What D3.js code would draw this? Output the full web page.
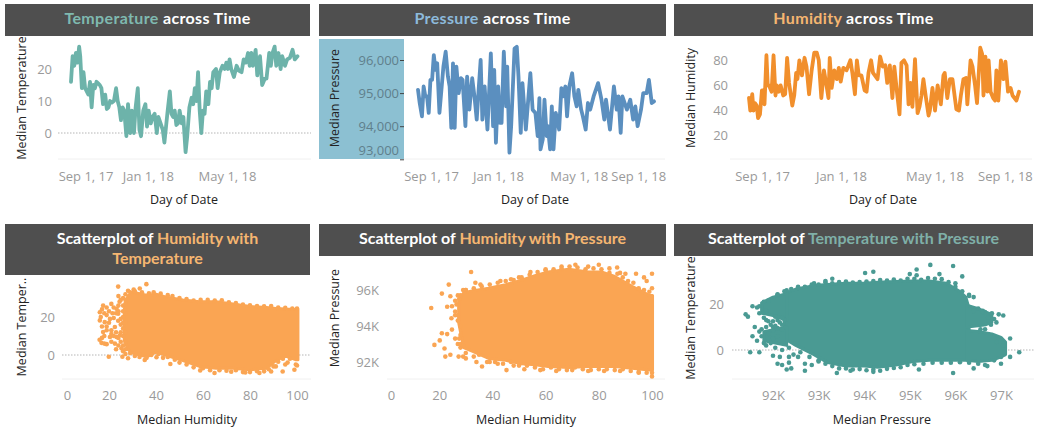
<!DOCTYPE html>
<html><head><meta charset="utf-8">
<script src="https://cdn.jsdelivr.net/npm/d3@7/dist/d3.min.js"></script>
<style>
html,body{margin:0;padding:0;background:#fff;overflow:hidden}
svg{display:block}
.ttl{font-family:Lato,sans-serif;font-weight:700;font-size:16px}
.tick text{font-family:"Open Sans",sans-serif;font-size:13px;fill:#9a9a9a}
.axt{font-family:"Open Sans",sans-serif;font-size:12.5px;fill:#222;font-weight:500}
</style></head><body>
<svg id="c" width="1040" height="439"></svg>
<script>
// ---------- data ----------
const seriesStart = new Date(2017, 7, 7);
const dateTicks = [new Date(2017,8,1), new Date(2018,0,1), new Date(2018,4,1), new Date(2018,8,1)];

const tempDays = [0,3,6,9,12,15,17,20,23,26,29,32,35,38,41,44,47,50,53,56,59,63,66,69,72,75,79,83,86,89,92,95,98,102,105,109,112,116,119,123,126,129,133,137,140,143,147,150,154,158,161,165,169,172,175,178,182,185,188,191,194,197,200,204,207,208,211,214,218,222,225,228,231,234,237,240,243,246,249,253,256,259,262,267,270,274,279,283,286,289,292,295,300,305,309,314,318,322,326,329,332,335,340,343,348,352,357,360,365,368,371,375,378,382,386,389,394,398,403,408,412,417];
const tempValues = [16,24,21,25,22,27,24,14,19,14,13,12,16,8,15,14,16,15.5,15,14,9,12,7.5,8,10,9.5,10,14,10,8,4,8,7,-1,9,0,7,0,8,14,1,-1,7,9,2,7,3,5,6,0,5,3,1,-3,2,7,13,6,5,7,2.5,3,7,3,5,2,-6,-1,8,11,9,14,10,19,7,0,7,6,13,9,16,14,19,20,14,19,21,20,22,20,23,20,17.5,21,19.5,19,23,22,25,21,25,21,26,18,24,15,17,17,25,21,25,27,21,25,20,24,21,23,23.5,26,23,24];

const presDays = [0,3,7,10,13,16,19,22,25,28,31,34,38,41,45,49,53,56,59,62,65,68,72,76,79,84,87,91,96,100,104,107,111,114,118,123,129,133,135,138,142,145,148,152,156,158,162,165,171,175,178,182,185,191,199,203,208,212,215,217,221,224,228,230,234,237,240,244,250,254,257,261,264,268,273,277,281,284,289,292,297,301,305,311,319,325,330,333,340,347,352,355,359,362,370,376,381,385,389,395,399,405,409,414,418];
const presValues = [95100,94700,94300,95200,94900,94900,94400,95400,95400,96150,95700,95900,94400,95000,95800,96250,95500,95200,93950,95900,93950,95800,95000,95450,95400,94000,95500,94500,95450,94900,94200,95000,96000,94200,95200,93900,96200,94000,95700,93500,95200,94100,94100,96250,94600,95800,93200,94000,96350,96400,95500,93800,95300,93900,95600,94500,94400,93700,94850,93300,93600,94800,93700,94000,93300,94600,93300,94400,93900,95150,94900,95200,94300,95200,95600,94900,94600,95100,94500,94300,93900,94700,94500,94900,95300,94800,94200,94800,93900,95200,94500,94900,93800,94900,94500,94800,94200,94600,94000,94500,95000,95000,95400,94700,94750];

const humDays = [0,2,5,7,9,12,14,17,20,22,24,27,29,31,35,38,41,43,46,49,53,56,59,62,64,67,70,73,75,78,82,86,89,93,97,101,105,108,112,116,120,123,125,128,132,136,139,142,146,151,157,160,164,167,170,174,179,182,185,189,192,199,203,207,211,214,218,222,225,229,233,236,240,244,247,250,253,257,261,264,267,270,274,278,280,284,288,292,297,301,303,307,311,315,321,325,328,332,336,338,343,346,350,353,358,361,363,366,369,371,374,378,381,383,386,390,394,397,401,405,408,414,418];
const humValues = [50,40,53,40,46,44,34,37,56,56,45,84,60,60,55,84,52,60,55,60,52,53,82,62,55,44,52,70,65,80,68,82,75,53,72,86,86,80,50,72,60,50,82,58,72,65,74,63,74,72,80,70,53,80,68,68,56,55,70,80,70,65,83,75,76,62,76,50,75,55,37,78,80,76,45,62,43,81,38,43,52,65,50,36,40,58,40,60,45,68,70,50,65,65,41,40,52,65,66,45,80,75,60,46,90,85,52,83,55,80,55,50,48,72,48,80,65,79,55,58,52,48,55];

// solid, fully overplotted parts of each cloud: [x, low, high]
const humTempBody = [[[26.5,8,24],[28,3,31],[30,1,33],[36,-1,31.5],[40,1.5,32],[44,0,30.5],[51.5,-3,29],[58.5,-6,28],[65.6,-7,28],[72.7,-7,26.8],[80,-7.7,25.5],[87,-7,25],[91,-3,24.5],[95,-0.5,24.2],[99.6,-2.5,24],[100.4,-2.5,24]]];
const humTempDots = [[23.9,36],[35.9,37.3],[28.1,33.8],[30.5,34.5],[33.1,35],[16.1,22.5],[16.5,20],[17.5,26],[19,25],[21,26.9],[23.2,24.3],[24.5,28],[16.1,18.2],[18.2,17.3],[17,15],[20.4,19],[21.5,22],[22.5,14.7],[17.5,12.1],[19,13],[20.4,9.5],[16.8,6.4],[18,6],[19,5.7],[22.5,6],[21,11],[19.9,-0.9],[25.7,-0.9],[28.1,-1.7],[35.2,-2.6],[33,-1],[40.2,-1.2],[46.1,-4.7],[58.8,-8.1],[64.9,-9.5],[72,-8.8],[78,-9.2],[84,-9.5],[89,-8.7],[91,-6],[93.9,-8.7],[95,-5],[98.9,-7.8],[99.5,-5],[23.9,21.7],[23.9,18],[24.6,10.4],[23.2,9.5],[25.3,3.5],
[27,32],[29,33],[31,33.5],[34,33],[37,32.5],[39,33],[42,32.3],[45,31.5],[47,31],[50,30],[53,29.5],[56,28.6],[59,29],[62,29],[65,28.7],[68,28.8],[71,27.8],[74,27.3],[77,26.5],[80,26.2],[83,25.8],[86,25.6],[89,25.8],[92,25],[95,24.8],[98,24.5],[100,24.5],
[48,-2.5],[50,-4],[53,-5],[56,-6.5],[60,-7],[63,-8],[67,-8],[70,-8.3],[74,-8],[77,-9],[80,-9],[83,-8.5],[86,-8.6],[88,-7.5],[90,-6],[92,-3.5],[94,-2],[96,-4],[97,-2],[100,-5.5],[27,0.5],[29,1],[31,-0.5],[33,0.5],[36,-1.5],[38,0],[41,0.5],[43,-1.5],[45,-1],
[17,24],[18,22],[19,21],[20,23],[22,25],[23,22],[24,26],[25,29],[26,30],[24,31],[26,26],[22,19.5],[20,17],[19,15],[21,13],[23,12],[24,9],[25,7],[26,5],[22,10],[21,7],[24,5],[26,2],[27,3],[23,3],[17,9],[18,10],[16,8],[27,27],[26,14],[26,10],[25,12],[25,16],[26,20],[24,23],[27,22],[27,17],[27,12],[27,7],[27,29],[26,23],[25,19],[26,17]];

const humPresBody = [[[27.3,94.2,95.4],[29.2,92.8,95.85],[32.4,92.6,95.95],[38.6,92.2,96.1],[45,92.1,96.3],[51,91.9,96.55],[56,91.85,96.8],[61,91.75,97],[68.7,91.7,97.15],[76,91.75,97],[81,91.75,97],[86,91.75,96.75],[92.5,91.65,96.2],[99,91.55,95.7],[100.2,91.55,95.7]]];
const humPresDots = [[17,95],[18.2,92.95],[20.2,93.2],[21,95.8],[23.6,96.3],[24.2,95.65],[23,95.07],[24.8,95.1],[24.6,94.43],[21,93.6],[23,93.55],[24.8,93.8],[22,92.75],[24.2,92.4],[22.3,92.3],[27.3,92.3],[32,97],[33.6,96.4],[35.5,96.3],[36.1,91.75],[39,92],[45.3,91.55],[43,96.5],[54.3,97],[71.2,97.4],[80,97.4],[86.9,97.25],[94,96.9],[100,96.9],[100,91.2],[26,95.4],[27,95.7],[26,94.8],[27,94.3],[28,94],[26,93.3],[27,93],[28,92.8],[29,92.3],[30,96],[30,92.2],[34,92],[42,91.9],[48,91.8],[52,91.6],[58,91.55],[64,91.5],[70,91.55],[76,91.5],[82,91.5],[88,91.5],[95,91.4],[97,96.7],[98,96.5],[90,96.9],[88,96.95],[84,97.2],[76,97.3],[66,97.3],[60,97.15],[50,96.7],[47,96.6],
[30,96],[33,96.1],[36,96.2],[39,96.3],[42,96.4],[45,96.5],[48,96.55],[51,96.7],[54,96.85],[57,97],[60,97.1],[63,97.15],[66,97.2],[69,97.3],[72,97.25],[75,97.15],[78,97.2],[81,97.15],[84,96.95],[87,96.9],[89,96.7],[91,96.5],[93,96.4],[95,96.1],[97,96],[99,95.9],[100,96.1],
[30,92.5],[33,92.3],[35,92.4],[38,92],[41,92],[44,91.9],[47,92],[50,91.8],[53,91.8],[56,91.7],[59,91.6],[62,91.7],[65,91.6],[68,91.55],[71,91.7],[74,91.6],[77,91.55],[80,91.6],[83,91.6],[86,91.55],[89,91.6],[92,91.5],[95,91.45],[98,91.4],[100,91.4],
[26.5,95.2],[27.5,95.5],[26,94.6],[27,94.6],[28,93.5],[27.5,93.3],[28,93],[29,92.9],[28,95.7],[29,96]];

const presTempBody = [
 [[92.25,5,24.5],[92.5,2,26.5],[92.9,-2,28],[93.2,-5.5,28.5],[93.6,-7,29],[94,-7,29],[94.3,-7.5,29.5],[94.7,-6.5,29.8],[95.07,-5,30],[95.43,-4.5,30],[95.8,-4.5,29],[96.09,-4.5,25.5],[96.23,-4.5,23],[96.3,-4.5,18]],
 [[96.25,10,19.5],[96.5,10.5,18],[96.67,11,16.5],[96.8,12,15.5]],
 [[96.25,-4.5,8.5],[96.5,-5,8],[96.8,-4.5,7],[97,-3,5.5],[97.1,-2,3.5]],
 [[91.75,16,20.5],[92,15,23],[92.3,13,24.5]],
 [[91.8,4,8],[92.3,2,10]]
];
const presTempDots = [[91.4,15.5],[91.45,14.5],[91.55,19],[91.65,18.5],[91.7,16],[91.8,14],[91.6,10],[91.7,8],[91.55,6],[91.75,6],[91.65,4],[91.9,7],[92,10],[92,5],[91.85,2],[91.7,-1],[91.5,-1],[92,-2.5],[92.1,-6],[92.2,-6.5],[92.35,-5.5],[92.3,-8.5],[92.4,-8],[92.7,-6],[92.7,-9],[92.85,-6.5],[93,-5],[93.4,-10],[92.1,24],[92.3,26],[92.55,27.5],[92.9,29],[93.15,30],[93.3,31],[94.02,33.5],[94.2,34],[95,33],[95.15,32.5],[95.15,35],[95.45,37],[95.65,33],[95.95,36.5],[96.15,32],[96,29],[96.3,24],[96.6,17],[96.65,16.5],[96.8,16],[96.9,12],[97.05,15],[96.95,15.5],[96.55,9],[96.65,9],[97.2,5],[97.07,-1],[97.2,-3],[97.4,-1],[97,-6],[96.7,-7],[96.4,-8],[95.95,-10],[95.2,-8.5],[94.2,-9.5],[93.7,-9],
[92.1,24.2],[92.25,25.5],[92.4,26.5],[92.55,27],[92.7,27.5],[92.85,28.5],[93,28.5],[93.15,29.5],[93.3,29],[93.45,29.5],[93.6,29.8],[93.75,29.3],[93.9,29.5],[94.05,29.8],[94.2,30],[94.35,30.4],[94.5,30.2],[94.65,30.6],[94.8,30.2],[94.95,31],[95.1,31],[95.25,30.5],[95.4,31.3],[95.55,31],[95.7,30.8],[95.85,29.5],[96,27.5],[96.15,25.5],[96.3,23.5],[96.4,23],[96.4,17],[96.5,18],[96.6,16.5],[96.72,14],
[92.6,-1],[92.8,-3],[93,-4.5],[93.15,-6],[93.3,-7],[93.45,-8],[93.6,-8],[93.75,-8.5],[93.9,-8.3],[94.05,-8.8],[94.2,-8.5],[94.35,-9],[94.5,-8.2],[94.65,-7.8],[94.8,-7.5],[94.95,-6.5],[95.1,-6.2],[95.3,-6],[95.5,-5.5],[95.7,-5.5],[95.9,-5.5],[96.1,-5.3],[96.3,-5.5],[96.5,-6],[96.65,-6.5],[96.85,-4.5],[97,-3],
[91.7,19],[91.8,21],[91.9,21.5],[91.85,17],[92.05,14.5],[92.15,12],[92.2,9],[91.95,11],[91.85,10],[92.1,6],[91.75,9],[92.05,1],[92.2,0],[92.15,-3],[92.35,1],[92.45,-2],[92.55,-3],[92.35,-3],[91.95,3],[91.8,3],
[92,12.5],[92.1,13],[92.2,11],[92.1,9.5],[92,8.5],[91.9,12.5],[92.25,13],[92.2,14],[91.85,13],[92.05,10.5],[96.85,13.5],[96.78,11],[96.9,3.5],[97.05,2]];

// ---------- helpers ----------
const svg = d3.select("#c");
const HEAD = "#4f4f4f";
function header(x0,x1,y0,y1,lines,spacing){
  svg.append("rect").attr("x",x0).attr("y",y0).attr("width",x1-x0).attr("height",y1-y0).attr("fill",HEAD);
  lines.forEach((runs,i)=>{
    const t = svg.append("text").attr("class","ttl").attr("text-anchor","middle")
      .attr("letter-spacing",spacing).attr("x",(x0+x1)/2).attr("y",y0+20+i*20);
    runs.forEach(r=>t.append("tspan").attr("fill",r[1]).text(r[0]));
  });
}
function yTitle(s,x,y){
  svg.append("text").attr("class","axt").attr("text-anchor","middle")
    .attr("transform",`translate(${x},${y}) rotate(-90)`).text(s);
}
function xTitle(s,x,y){
  svg.append("text").attr("class","axt").attr("text-anchor","middle").attr("x",x).attr("y",y).text(s);
}
function frame(x0,x1,yb){
  svg.append("line").attr("x1",x0).attr("x2",x1).attr("y1",yb).attr("y2",yb).attr("stroke","#f0f0f0");
}
function zero(x0,x1,y){
  svg.append("line").attr("x1",x0).attr("x2",x1).attr("y1",y).attr("y2",y)
    .attr("stroke","#b5b5b5").attr("stroke-dasharray","1.5,1.5");
}
function axes(o){
  const gx = svg.append("g").attr("transform",`translate(0,${o.bottom})`)
    .call(d3.axisBottom(o.x).tickValues(o.xTicks).tickFormat(o.xFmt).tickSize(0).tickPadding(o.xPad));
  gx.select(".domain").remove();
  gx.selectAll(".tick text").attr("dx",(d,i)=>(o.xNudge||[])[i]||0);
  const gy = svg.append("g").attr("transform",`translate(${o.yAxisX},0)`)
    .call(d3.axisLeft(o.y).tickValues(o.yTicks).tickFormat(o.yFmt).tickSize(o.yTick||0).tickPadding(o.yTick?1:0));
  gy.select(".domain").remove();
  gy.selectAll(".tick line").attr("stroke","#444");
  gy.selectAll(".tick text").attr("dy",(d,i)=>(o.yNudge||[])[i]||"0.32em");
  if(o.yColor) gy.selectAll(".tick text").style("fill",o.yColor);
}
const dateFmt = d3.timeFormat("%b %-d, %y");
function dayToDate(d){ return d3.timeDay.offset(seriesStart,d); }
function lineChart(o){
  const x = d3.scaleTime().domain([seriesStart,dayToDate(418)]).range(o.xr);
  if(o.zeroY) zero(o.px0,o.px1,o.y(0));
  frame(o.px0,o.px1,o.bottom);
  svg.append("path").datum(d3.zip(o.days,o.values))
    .attr("fill","none").attr("stroke",o.color).attr("stroke-width",3.8).attr("stroke-linejoin","round").attr("stroke-linecap","round")
    .attr("d",d3.line().x(d=>x(dayToDate(d[0]))).y(d=>o.y(d[1])));
  axes({...o,x,xFmt:dateFmt,xPad:13});
}
function scatter(o){
  if(o.zeroY) zero(o.px0,o.px1,o.y(0));
  frame(o.px0,o.px1,o.bottom);
  const area = d3.area().x(d=>o.x(d[0])).y0(d=>o.y(d[1])).y1(d=>o.y(d[2]));
  svg.append("g").selectAll("path").data(o.body).join("path")
    .attr("fill",o.color).attr("stroke",o.color).attr("stroke-width",3).attr("stroke-linejoin","round").attr("d",area);
  svg.append("g").selectAll("circle").data(o.dots).join("circle")
    .attr("cx",d=>o.x(d[0])).attr("cy",d=>o.y(d[1])).attr("r",2.3).attr("fill",o.color);
  axes({...o,xPad:12});
}

// ---------- colours ----------
const W="#ffffff", TEAL="#7fb9b0", BLUE="#8dbadb", ORG="#f5b671", TEAL2="#7fb0a8";

// ---------- top row ----------
header(5,310,4,36,[[["Temperature",TEAL],[" across Time",W]]],0.35);
header(319,666,4,36,[[["Pressure",BLUE],[" across Time",W]]],0.35);
header(674,1033,4,36,[[["Humidity",ORG],[" across Time",W]]],0.35);
svg.append("rect").attr("x",319).attr("y",39).attr("width",85).attr("height",120).attr("fill","#8cc0d2");

lineChart({days:tempDays,values:tempValues,color:"#6db3aa",xr:[71,298],px0:58,px1:311,bottom:159,
  y:d3.scaleLinear().domain([0,20]).range([133,69]),yTicks:[0,10,20],yFmt:d3.format("d"),yAxisX:52,zeroY:true,
  xTicks:dateTicks.slice(0,3),xNudge:[1,-3,11]});
lineChart({days:presDays,values:presValues,color:"#5b8fbf",xr:[418,654],px0:404,px1:665,bottom:159,
  y:d3.scaleLinear().domain([93000,96000]).range([159.3,60]),yTicks:[93000,94000,95000,96000],yFmt:d3.format(","),yAxisX:404,yTick:4,yColor:"#5f7f8c",yNudge:["-0.4em","0.32em","0.32em","0.32em"],
  xTicks:dateTicks,xNudge:[-1,-3,10,0]});
lineChart({days:humDays,values:humValues,color:"#f18f2c",xr:[749,1019],px0:730,px1:1032,bottom:159,
  y:d3.scaleLinear().domain([20,80]).range([135.7,60.3]),yTicks:[20,40,60,80],yFmt:d3.format("d"),yAxisX:728,
  xTicks:dateTicks,xNudge:[-3,-3,13,4]});

yTitle("Median Temperature",26,98); yTitle("Median Pressure",339,98); yTitle("Median Humidity",695,98);
xTitle("Day of Date",184,204); xTitle("Day of Date",535,204); xTitle("Day of Date",883,204);

// ---------- bottom row ----------
header(5,310,224,275,[[["Scatterplot of ",W],["Humidity with",ORG]],[["Temperature",ORG]]],0);
header(319,666,224,256,[[["Scatterplot of ",W],["Humidity with Pressure",ORG]]],0);
header(674,1033,224,256,[[["Scatterplot of ",W],["Temperature with Pressure",TEAL2]]],0);

scatter({body:humTempBody,dots:humTempDots,color:"#faa553",px0:62,px1:311,bottom:379,zeroY:true,
  x:d3.scaleLinear().domain([0,100]).range([62,297]),xTicks:[0,20,40,60,80,100],xFmt:d3.format("d"),xNudge:[5,0,0,0,0,0],
  y:d3.scaleLinear().domain([0,20]).range([355,317]),yTicks:[0,20],yFmt:d3.format("d"),yAxisX:55});
scatter({body:humPresBody,dots:humPresDots,color:"#faa553",px0:387,px1:665,bottom:379,
  x:d3.scaleLinear().domain([0,100]).range([386,652]),xTicks:[0,20,40,60,80,100],xFmt:d3.format("d"),xNudge:[5,0,0,0,0,0],
  y:d3.scaleLinear().domain([92,96]).range([362,290]),yTicks:[92,94,96],yFmt:d=>d+"K",yAxisX:379});
scatter({body:presTempBody,dots:presTempDots,color:"#4a9a93",px0:732,px1:1034,bottom:379,zeroY:true,
  x:d3.scaleLinear().domain([92,97]).range([773,1001]),xTicks:[92,93,94,95,96,97],xFmt:d=>d+"K",
  y:d3.scaleLinear().domain([0,20]).range([350,304]),yTicks:[0,20],yFmt:d3.format("d"),yAxisX:724});

yTitle("Median Temper..",26,327); yTitle("Median Pressure",339,318); yTitle("Median Temperature",695,318);
xTitle("Median Humidity",187,424); xTitle("Median Humidity",526,424); xTitle("Median Pressure",882,424);
</script>
</body></html>
